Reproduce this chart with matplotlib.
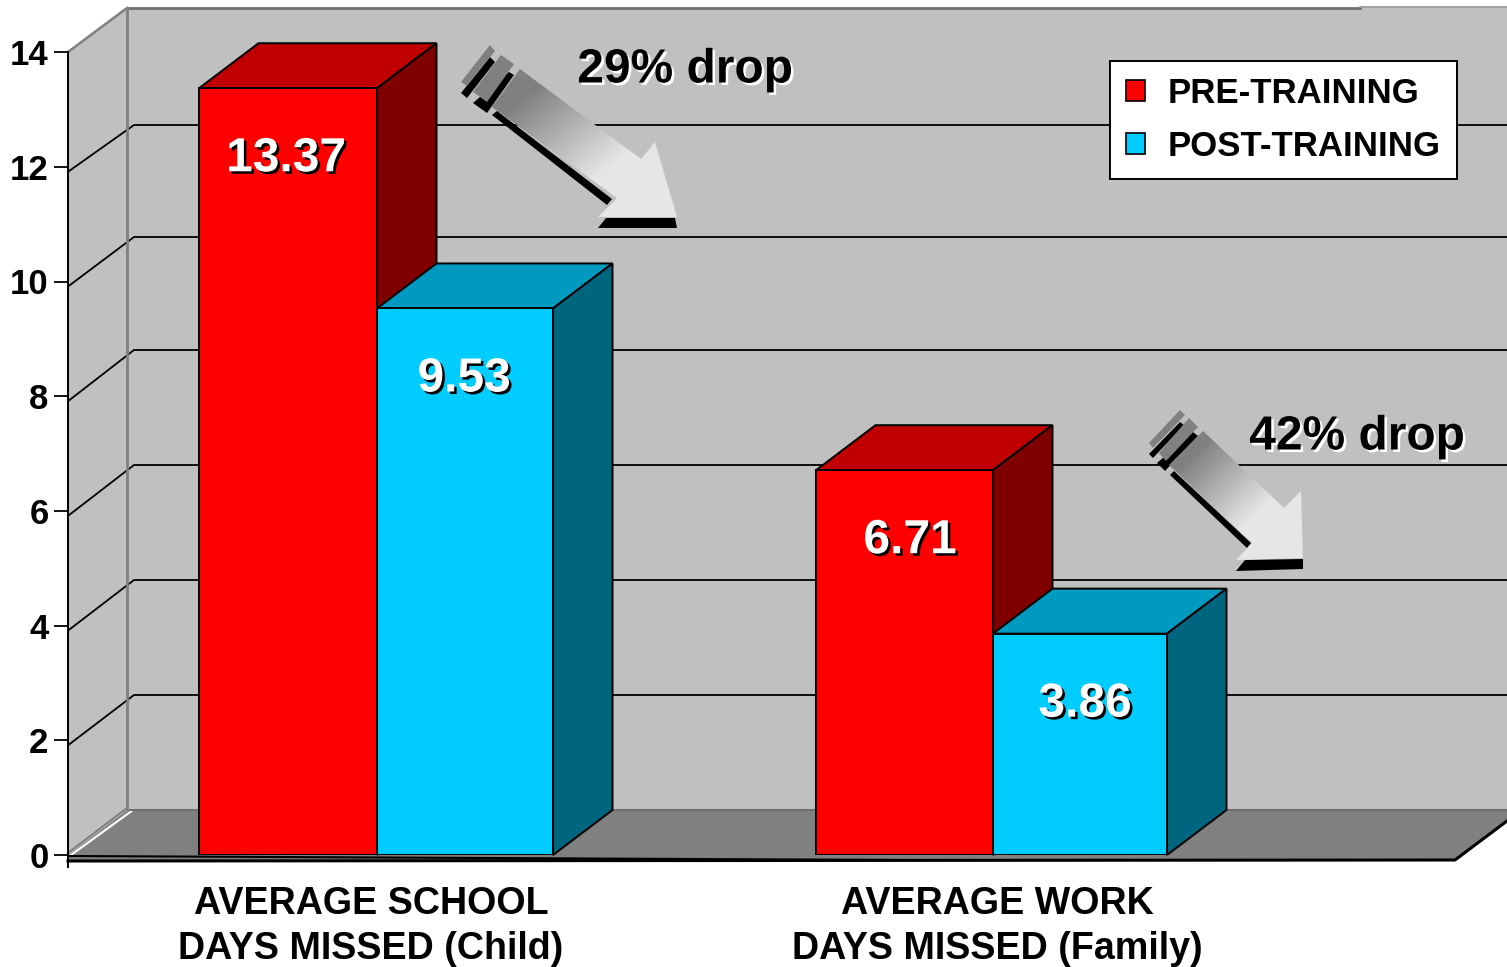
import matplotlib
matplotlib.use('Agg')
import matplotlib.pyplot as plt
import matplotlib.patheffects as pe
from matplotlib.patches import Polygon, Patch
import numpy as np

plt.rcParams['font.family'] = ['Liberation Sans', 'DejaVu Sans']
plt.rcParams['font.weight'] = 'bold'

categories = ['AVERAGE SCHOOL\nDAYS MISSED (Child)', 'AVERAGE WORK\nDAYS MISSED (Family)']
series = ['PRE-TRAINING', 'POST-TRAINING']
pre_training = [13.37, 6.71]
post_training = [9.53, 3.86]
value_ticks = [0, 2, 4, 6, 8, 10, 12, 14]
drops = ['29% drop', '42% drop']

W, H = 1507, 967
Y0, UNIT = 855, 57.35


# pixel row -> value on the y axis, for the things that sit on the picture
def py(p):
    return (Y0 - p) / UNIT


def poly(ax, pts, color, edge='none', lw=0, z=2):
    xy = [(x, py(y)) for x, y in pts]
    p = Polygon(xy, closed=True, facecolor=color, edgecolor=edge, linewidth=lw, zorder=z, clip_on=False)
    ax.add_patch(p)
    return p


def bar3d(ax, left, width, value, front, top, side):
    dx, dy = 59.5, 45 / UNIT
    ax.bar(left, value, width, align='edge', color=front, edgecolor='black', linewidth=1.4, zorder=4)
    r = left + width
    ax.add_patch(Polygon([(left, value), (r, value), (r + dx, value + dy), (left + dx, value + dy)],
                         facecolor=top, edgecolor='black', linewidth=1.4, zorder=3, clip_on=False))
    ax.add_patch(Polygon([(r, 0), (r, value), (r + dx, value + dy), (r + dx, dy)],
                         facecolor=side, edgecolor='black', linewidth=1.4, zorder=3, clip_on=False))


def arrow(ax, body, shadow, base, stripes):
    for s in stripes:
        poly(ax, s[0], s[1], z=6)
    poly(ax, shadow, 'black', z=6)
    poly(ax, base, 'black', z=6)
    clip = poly(ax, body, 'none', z=7)
    xs = [p[0] for p in body]
    ys = [p[1] for p in body]
    gx, gy = np.meshgrid(np.linspace(0, 1, 80), np.linspace(0, 1, 80))
    ramp = np.clip((gx + gy - 0.35) / 0.95, 0, 1)
    im = ax.imshow(ramp, extent=(min(xs), max(xs), py(max(ys)), py(min(ys))), origin='upper', aspect='auto',
                   cmap='gray', vmin=-1.25, vmax=1.25, zorder=7)
    im.set_clip_path(clip)


fig = plt.figure(figsize=(W / 100, H / 100), dpi=100, facecolor='white')
ax = fig.add_axes([68 / W, (H - Y0) / H, (W - 68) / W, 14 * UNIT / H])
ax.patch.set_visible(False)

# walls and floor
poly(ax, [(127, 8), (W, 8), (W, 810), (127, 810)], '#C0C0C0', z=0)
poly(ax, [(68, 52), (127, 8), (127, 810), (68, 855)], '#C0C0C0', z=0)
poly(ax, [(68, 855), (127, 810), (W, 810), (W, 821), (1455, 860), (68, 860)], '#808080', z=1)
ax.plot([127, 1360], [py(7.5), py(7.5)], color='#707070', lw=2, zorder=1, clip_on=False)
ax.plot([1360, W], [py(7), py(7)], color='#909090', lw=1.2, zorder=1, clip_on=False)
ax.plot([127, 127], [py(8), py(810)], color='#808080', lw=2, zorder=2, clip_on=False)
ax.plot([68, 127], [py(52), py(8)], color='#808080', lw=1.8, zorder=1, clip_on=False)
ax.plot([68, 127], [py(853), py(808)], color='#808080', lw=1.5, zorder=1, clip_on=False)
ax.plot([71, 133], [py(855), py(810)], color='white', lw=1.5, zorder=1, clip_on=False)
ax.plot([127, W], [py(810), py(810)], color='#707070', lw=1.5, zorder=1, clip_on=False)
ax.plot([68, 900], [py(856), py(860)], color='black', lw=1.5, zorder=2, clip_on=False)
ax.plot([68, 1455, W], [py(861), py(860), py(821)], color='black', lw=2.2, zorder=2, clip_on=False)

# gridlines, back wall and the slanted part on the side wall
back_rows = [695, 580, 465, 350, 237, 125]
for v, row in zip(value_ticks[1:-1], back_rows):
    ax.plot([68, 134, W], [v - 5 / UNIT, py(row), py(row)], color='black', lw=1.3, zorder=1, clip_on=False)

lefts = [[199, 816], [377, 993]]
widths = [[178, 177], [176, 174]]
for i in range(2):
    bar3d(ax, lefts[0][i], widths[0][i], pre_training[i], '#FF0000', '#C00000', '#800000')
    bar3d(ax, lefts[1][i], widths[1][i], post_training[i], '#00CCFF', '#0099C0', '#006680')

# value labels
shadow_blk = [pe.SimplePatchShadow(offset=(1.8, -1.8), shadow_rgbFace='black', alpha=1), pe.Normal()]
shadow_wht = [pe.SimplePatchShadow(offset=(1.8, -1.8), shadow_rgbFace='white', alpha=1), pe.Normal()]
label_x = [[286, 910], [464, 1085]]
for i in range(2):
    for j, vals in enumerate([pre_training, post_training]):
        ax.text(label_x[j][i], vals[i] - 1.23, f'{vals[i]:.2f}', color='white', fontsize=34.5, ha='center',
                va='center', zorder=8, path_effects=shadow_blk)

ax.text(685, py(70), drops[0], fontsize=34.5, ha='center', va='center', zorder=8, path_effects=shadow_wht)
ax.text(1357, py(437), drops[1], fontsize=34.5, ha='center', va='center', zorder=8, path_effects=shadow_wht)

arrow(ax,
      [(520, 69), (641, 159), (655, 142), (677, 217), (598, 217), (617, 198), (492, 107)],
      [(492, 115), (497, 111), (612, 199), (607, 205)],
      [(606, 218), (675, 218), (677, 228), (598, 228)],
      [([(490, 57), (495, 62), (467, 98), (461, 93)], 'black'),
       ([(490, 45), (495, 51), (467, 86), (461, 82)], '#808080'),
       ([(509, 72), (514, 75), (487, 113), (473, 103)], 'black'),
       ([(501, 55), (514, 64), (487, 102), (473, 92)], '#808080')])
arrow(ax,
      [(1203, 431), (1284, 508), (1301, 491), (1303, 558), (1236, 560), (1252, 543), (1169, 465)],
      [(1170, 475), (1174, 471), (1251, 543), (1247, 548)],
      [(1245, 560), (1303, 559), (1303, 569), (1236, 571)],
      [([(1180, 422), (1184, 425), (1153, 458), (1149, 454)], 'black'),
       ([(1180, 410), (1185, 415), (1153, 448), (1149, 443)], '#808080'),
       ([(1193, 432), (1198, 436), (1165, 471), (1157, 463)], 'black'),
       ([(1189, 418), (1198, 427), (1166, 461), (1159, 453)], '#808080')])

ax.set_xlim(68, W)
ax.set_ylim(0, 14)
ax.set_yticks(value_ticks)
ax.tick_params(axis='y', length=10, width=1.3, labelsize=25, pad=4, color='black')
ax.set_xticks([371, 997])
ax.set_xticklabels(categories, fontsize=27.1, linespacing=1.31)
ax.tick_params(axis='x', length=0, pad=22.5)
for s in ['top', 'right', 'bottom']:
    ax.spines[s].set_visible(False)
ax.spines['left'].set_bounds(py(867), 14)
ax.spines['left'].set_linewidth(1.4)
ax.spines['left'].set_zorder(2)

handles = [Patch(facecolor='#FF0000', edgecolor='black', linewidth=1.2),
           Patch(facecolor='#00CCFF', edgecolor='black', linewidth=1.2)]
leg = ax.legend(handles, series, loc='upper left', bbox_to_anchor=((1110 - 68) / (W - 68), (Y0 - 61) / (14 * UNIT)),
                borderaxespad=0, fontsize=25, fancybox=False, framealpha=1, edgecolor='black',
                handlelength=0.55, handleheight=0.55, handletextpad=0.66, labelspacing=0.57, borderpad=0.46)
leg.get_frame().set_linewidth(1.4)
leg.set_zorder(9)

fig.savefig('out.png', dpi=100)
